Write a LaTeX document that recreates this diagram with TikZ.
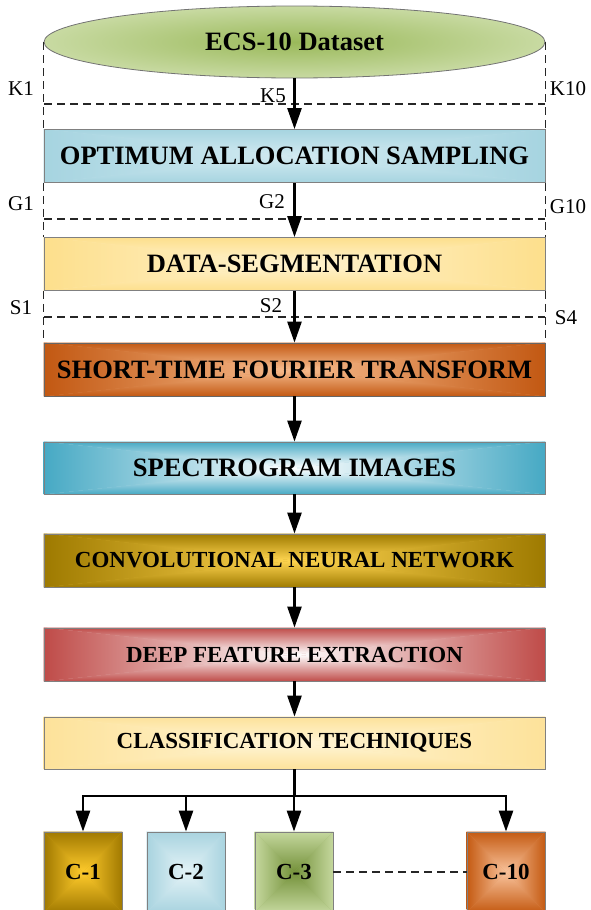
\documentclass[tikz,border=0pt]{standalone}
\usepackage{fontspec}
\setmainfont{Liberation Serif}
\usetikzlibrary{arrows.meta,shapes.geometric,calc}
\pgfdeclarelayer{background}
\pgfsetlayers{background,main}
\definecolor{dsE}{HTML}{C8DAA2}
\definecolor{dsC}{HTML}{9AB95A}
\definecolor{optE}{HTML}{A6D4E0}
\definecolor{optC}{HTML}{D2EAF1}
\definecolor{segE}{HTML}{FDDF8C}
\definecolor{segC}{HTML}{FFF3D0}
\definecolor{stE}{HTML}{C25812}
\definecolor{stC}{HTML}{F7BC8E}
\definecolor{spE}{HTML}{46A9C4}
\definecolor{spC}{HTML}{FFFFFF}
\definecolor{cnE}{HTML}{9E7A00}
\definecolor{cnC}{HTML}{FFD550}
\definecolor{dfE}{HTML}{BF4B48}
\definecolor{dfC}{HTML}{FFFFFF}
\definecolor{clE}{HTML}{FDE29A}
\definecolor{clC}{HTML}{FFF5D6}
\definecolor{caE}{HTML}{A07900}
\definecolor{caC}{HTML}{FFCB2C}
\definecolor{cbE}{HTML}{A8D3DF}
\definecolor{cbC}{HTML}{E4F3F7}
\definecolor{ccE}{HTML}{C5D89E}
\definecolor{ccC}{HTML}{74913A}
\definecolor{cdE}{HTML}{C45A12}
\definecolor{cdC}{HTML}{F9C39C}
\newcommand\pgrad[3]{%
  \fill[#3!50!#2] (#1.north west) rectangle (#1.south east);
  \shade[top color=#2, bottom color=#3] (#1.north west) -- (#1.north east) -- (#1.center) -- cycle;
  \shade[top color=#3, bottom color=#2] (#1.south west) -- (#1.south east) -- (#1.center) -- cycle;
  \shade[left color=#2, right color=#3] (#1.north west) -- (#1.south west) -- (#1.center) -- cycle;
  \shade[left color=#3, right color=#2] (#1.north east) -- (#1.south east) -- (#1.center) -- cycle;
}
\begin{document}
\begin{tikzpicture}[x=1pt,y=-1pt,
  box/.style={draw=black!50, line width=0.8pt, minimum width=501pt, minimum height=53pt, inner sep=0pt,
    font=\bfseries\fontsize{26.5}{30}\selectfont},
  sbox/.style={box, font=\bfseries\fontsize{23}{26}\selectfont},
  cbox/.style={draw=black!50, line width=0.8pt, minimum width=78pt, minimum height=80pt, inner sep=0pt,
    font=\bfseries\fontsize{23}{26}\selectfont},
  lbl/.style={inner sep=0pt, font=\fontsize{21}{24}\selectfont},
  arr/.style={line width=2.6pt, -{Triangle[width=14pt,length=21pt]}},
  plain/.style={line width=2.6pt},
  dline/.style={line width=1.5pt, dash pattern=on 8pt off 5pt, black!85}]
\useasboundingbox (0,0) rectangle (591,910);

% dataset ellipse
\node[ellipse, draw=black!55, line width=0.8pt, minimum width=501pt, minimum height=72pt, inner sep=0pt,
  inner color=dsC, outer color=dsE, font=\bfseries\fontsize{26.5}{30}\selectfont] (ds) at (294.5,42) {ECS-10 Dataset};

% main boxes
\node[box] (opt) at (294.5,156) {OPTIMUM ALLOCATION SAMPLING};
\node[box] (seg) at (294.5,264) {DATA-SEGMENTATION};
\node[box, draw=black!60] (stft) at (294.5,369.5) {SHORT-TIME FOURIER TRANSFORM};
\node[box, minimum height=52pt] (spec) at (294.5,468) {SPECTROGRAM IMAGES};
\node[sbox] (cnn) at (294.5,560.5) {CONVOLUTIONAL NEURAL NETWORK};
\node[sbox] (deep) at (294.5,654.5) {DEEP FEATURE EXTRACTION};
\node[sbox, minimum height=52pt] (cls) at (294.5,743) {CLASSIFICATION TECHNIQUES};

% class boxes
\node[cbox] (c1) at (83,872) {C-1};
\node[cbox] (c2) at (186,872) {C-2};
\node[cbox] (c3) at (294,872) {C-3};
\node[cbox] (c10) at (506,872) {C-10};

\begin{pgfonlayer}{background}
  \pgrad{opt}{optE}{optC}
  \pgrad{seg}{segE}{segC}
  \pgrad{stft}{stE}{stC}
  \pgrad{spec}{spE}{spC}
  \pgrad{cnn}{cnE}{cnC}
  \pgrad{deep}{dfE}{dfC}
  \pgrad{cls}{clE}{clC}
  \pgrad{c1}{caE}{caC}
  \pgrad{c2}{cbE}{cbC}
  \pgrad{c3}{ccE}{ccC}
  \pgrad{c10}{cdE}{cdC}
\end{pgfonlayer}

% dashed partition frames
\coordinate (kl) at (44,104);  \coordinate (kr) at (545,104);
\coordinate (gl) at (44,219);  \coordinate (gr) at (545,219);
\coordinate (sl) at (44,317);  \coordinate (sr) at (545,317);
\draw[dline] (ds.west) -- (opt.north west);
\draw[dline] (ds.east) -- (opt.north east);
\draw[dline] (opt.south west) -- (seg.north west);
\draw[dline] (opt.south east) -- (seg.north east);
\draw[dline] (seg.south west) -- (stft.north west);
\draw[dline] (seg.south east) -- (stft.north east);
\draw[dline] (kl) -- (kr);
\draw[dline] (gl) -- (gr);
\draw[dline] (sl) -- (sr);

% labels
\node[lbl] (k1) at (21,89) {K1};
\node[lbl] (k5) at (273,96) {K5};
\node[lbl] (k10) at (568,89) {K10};
\node[lbl] (g1) at (21,204) {G1};
\node[lbl] (g2) at (272,202) {G2};
\node[lbl] (g10) at (568,207) {G10};
\node[lbl] (s1) at (21,308) {S1};
\node[lbl] (s2) at (271,306) {S2};
\node[lbl] (s4) at (566,318) {S4};

% arrows
\draw[arr] (ds.south) -- (opt.north);
\draw[arr] (opt.south) -- (seg.north);
\draw[arr] (seg.south) -- (stft.north);
\draw[arr] (stft.south) -- (spec.north);
\draw[arr] (spec.south) -- (cnn.north);
\draw[arr] (cnn.south) -- (deep.north);
\draw[arr] (deep.south) -- (cls.north);

% branch
\coordinate (br) at (294.5,796);
\draw[plain] (cls.south) -- (br);
\draw[plain, line cap=rect] (c1 |- br) -- (c10 |- br);
\draw[arr] (c1 |- br) -- (c1.north);
\draw[arr] (c2 |- br) -- (c2.north);
\draw[arr] (c3 |- br) -- (c3.north);
\draw[arr] (c10 |- br) -- (c10.north);
\draw[dline] (c3.east) -- (c10.west);
\end{tikzpicture}
\end{document}
